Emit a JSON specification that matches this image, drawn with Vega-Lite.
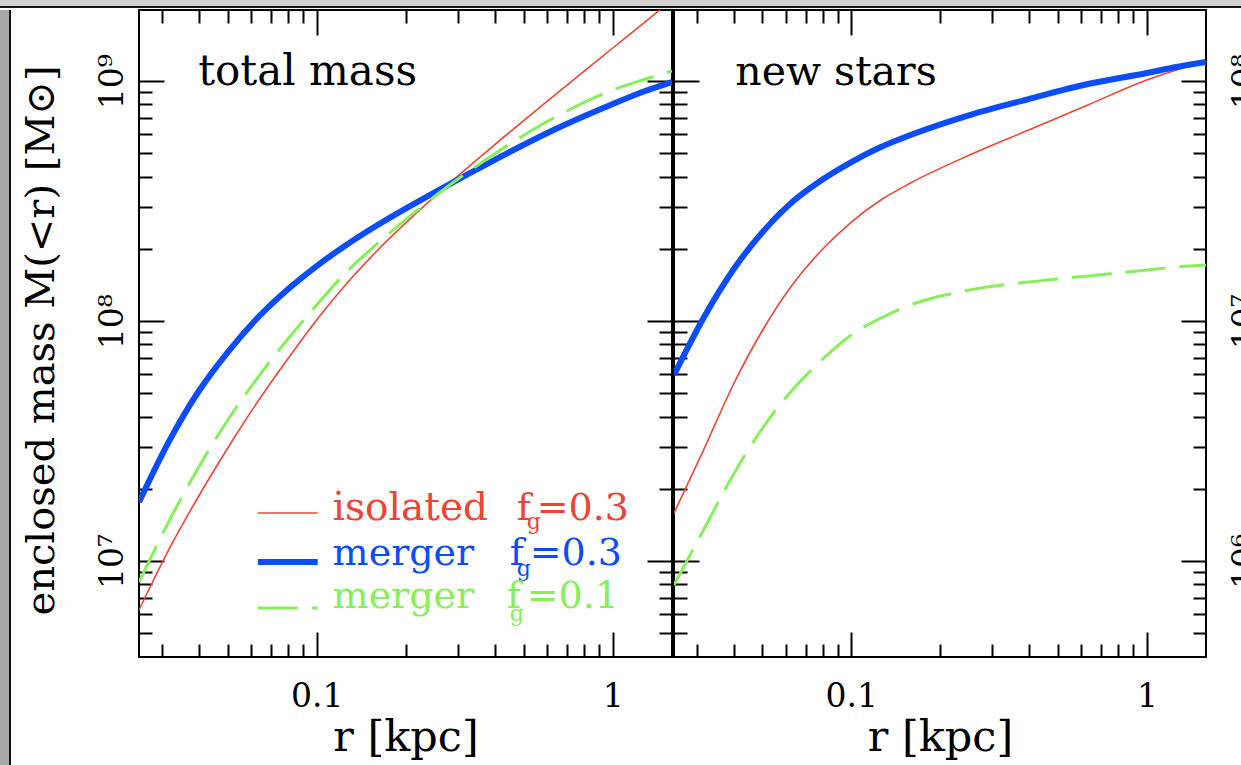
{
  "$schema": "https://vega.github.io/schema/vega-lite/v6.json",
  "background": "white",
  "padding": 0,
  "config": {
    "font": "DejaVu Serif",
    "view": {"stroke": null},
    "axis": {
      "domain": false, "grid": false, "tickColor": "black", "tickWidth": 2,
      "labelFont": "DejaVu Serif", "labelFontSize": 33, "labelColor": "black",
      "labelOverlap": false, "labelFlush": false, "labelBound": false,
      "titleFont": "DejaVu Serif", "titleFontSize": 40, "titleFontWeight": "normal", "titleColor": "black",
      "zindex": 1
    }
  },
  "datasets": {
    "total": [
      {"model": "isolated fg=0.3", "r": 0.02512, "mass": 6249000},
      {"model": "isolated fg=0.3", "r": 0.03162, "mass": 11110000},
      {"model": "isolated fg=0.3", "r": 0.03981, "mass": 18480000},
      {"model": "isolated fg=0.3", "r": 0.05012, "mass": 29570000},
      {"model": "isolated fg=0.3", "r": 0.0631, "mass": 45970000},
      {"model": "isolated fg=0.3", "r": 0.07943, "mass": 68790000},
      {"model": "isolated fg=0.3", "r": 0.1, "mass": 101000000},
      {"model": "isolated fg=0.3", "r": 0.1259, "mass": 142600000},
      {"model": "isolated fg=0.3", "r": 0.1585, "mass": 193900000},
      {"model": "isolated fg=0.3", "r": 0.2512, "mass": 331700000},
      {"model": "isolated fg=0.3", "r": 0.3981, "mass": 541200000},
      {"model": "isolated fg=0.3", "r": 0.631, "mass": 866000000},
      {"model": "isolated fg=0.3", "r": 1, "mass": 1373000000},
      {"model": "isolated fg=0.3", "r": 1.259, "mass": 1728000000},
      {"model": "isolated fg=0.3", "r": 1.585, "mass": 2175000000},
      {"model": "merger fg=0.3", "r": 0.02512, "mass": 17610000},
      {"model": "merger fg=0.3", "r": 0.03162, "mass": 31310000},
      {"model": "merger fg=0.3", "r": 0.03981, "mass": 50610000},
      {"model": "merger fg=0.3", "r": 0.05012, "mass": 74270000},
      {"model": "merger fg=0.3", "r": 0.0631, "mass": 102900000},
      {"model": "merger fg=0.3", "r": 0.07943, "mass": 134600000},
      {"model": "merger fg=0.3", "r": 0.1, "mass": 169500000},
      {"model": "merger fg=0.3", "r": 0.1259, "mass": 207400000},
      {"model": "merger fg=0.3", "r": 0.1585, "mass": 248800000},
      {"model": "merger fg=0.3", "r": 0.2512, "mass": 344800000},
      {"model": "merger fg=0.3", "r": 0.3981, "mass": 468600000},
      {"model": "merger fg=0.3", "r": 0.631, "mass": 624900000},
      {"model": "merger fg=0.3", "r": 1, "mass": 801900000},
      {"model": "merger fg=0.3", "r": 1.259, "mass": 900000000},
      {"model": "merger fg=0.3", "r": 1.585, "mass": 990400000},
      {"model": "merger fg=0.1", "r": 0.02512, "mass": 8175000},
      {"model": "merger fg=0.1", "r": 0.03162, "mass": 14540000},
      {"model": "merger fg=0.1", "r": 0.03981, "mass": 24410000},
      {"model": "merger fg=0.1", "r": 0.05012, "mass": 38680000},
      {"model": "merger fg=0.1", "r": 0.0631, "mass": 57880000},
      {"model": "merger fg=0.1", "r": 0.07943, "mass": 83310000},
      {"model": "merger fg=0.1", "r": 0.1, "mass": 116600000},
      {"model": "merger fg=0.1", "r": 0.1259, "mass": 160000000},
      {"model": "merger fg=0.1", "r": 0.1585, "mass": 207400000},
      {"model": "merger fg=0.1", "r": 0.2512, "mass": 331700000},
      {"model": "merger fg=0.1", "r": 0.3981, "mass": 496400000},
      {"model": "merger fg=0.1", "r": 0.631, "mass": 701300000},
      {"model": "merger fg=0.1", "r": 1, "mass": 917300000},
      {"model": "merger fg=0.1", "r": 1.259, "mass": 1010000000},
      {"model": "merger fg=0.1", "r": 1.585, "mass": 1101000000}
    ],
    "stars": [
      {"model": "isolated fg=0.3", "r": 0.02512, "mass": 1585000},
      {"model": "isolated fg=0.3", "r": 0.03162, "mass": 2900000},
      {"model": "isolated fg=0.3", "r": 0.03981, "mass": 5412000},
      {"model": "isolated fg=0.3", "r": 0.05012, "mass": 9173000},
      {"model": "isolated fg=0.3", "r": 0.0631, "mass": 14130000},
      {"model": "isolated fg=0.3", "r": 0.07943, "mass": 19760000},
      {"model": "isolated fg=0.3", "r": 0.1, "mass": 25850000},
      {"model": "isolated fg=0.3", "r": 0.1259, "mass": 31930000},
      {"model": "isolated fg=0.3", "r": 0.1585, "mass": 37580000},
      {"model": "isolated fg=0.3", "r": 0.2512, "mass": 49170000},
      {"model": "isolated fg=0.3", "r": 0.3981, "mass": 62490000},
      {"model": "isolated fg=0.3", "r": 0.631, "mass": 79430000},
      {"model": "isolated fg=0.3", "r": 1, "mass": 101000000},
      {"model": "isolated fg=0.3", "r": 1.259, "mass": 111100000},
      {"model": "isolated fg=0.3", "r": 1.585, "mass": 120000000},
      {"model": "merger fg=0.3", "r": 0.02512, "mass": 5957000},
      {"model": "merger fg=0.3", "r": 0.03162, "mass": 10290000},
      {"model": "merger fg=0.3", "r": 0.03981, "mass": 16310000},
      {"model": "merger fg=0.3", "r": 0.05012, "mass": 23490000},
      {"model": "merger fg=0.3", "r": 0.0631, "mass": 31310000},
      {"model": "merger fg=0.3", "r": 0.07943, "mass": 38680000},
      {"model": "merger fg=0.3", "r": 0.1, "mass": 45970000},
      {"model": "merger fg=0.3", "r": 0.1259, "mass": 53090000},
      {"model": "merger fg=0.3", "r": 0.1585, "mass": 59570000},
      {"model": "merger fg=0.3", "r": 0.2512, "mass": 72160000},
      {"model": "merger fg=0.3", "r": 0.3981, "mass": 84140000},
      {"model": "merger fg=0.3", "r": 0.631, "mass": 97160000},
      {"model": "merger fg=0.3", "r": 1, "mass": 108000000},
      {"model": "merger fg=0.3", "r": 1.259, "mass": 114400000},
      {"model": "merger fg=0.3", "r": 1.585, "mass": 120000000},
      {"model": "merger fg=0.1", "r": 0.02512, "mass": 794300},
      {"model": "merger fg=0.1", "r": 0.03162, "mass": 1346000},
      {"model": "merger fg=0.1", "r": 0.03981, "mass": 2282000},
      {"model": "merger fg=0.1", "r": 0.05012, "mass": 3583000},
      {"model": "merger fg=0.1", "r": 0.0631, "mass": 5158000},
      {"model": "merger fg=0.1", "r": 0.07943, "mass": 6879000},
      {"model": "merger fg=0.1", "r": 0.1, "mass": 8744000},
      {"model": "merger fg=0.1", "r": 0.1259, "mass": 10290000},
      {"model": "merger fg=0.1", "r": 0.1585, "mass": 11660000},
      {"model": "merger fg=0.1", "r": 0.2512, "mass": 13460000},
      {"model": "merger fg=0.1", "r": 0.3981, "mass": 14540000},
      {"model": "merger fg=0.1", "r": 0.631, "mass": 15400000},
      {"model": "merger fg=0.1", "r": 1, "mass": 16310000},
      {"model": "merger fg=0.1", "r": 1.259, "mass": 16790000},
      {"model": "merger fg=0.1", "r": 1.585, "mass": 17110000}
    ]
  },
  "spacing": 0,
  "vconcat": [
    {"width": 1241, "height": 6, "data": {"values": []}, "mark": "rect", "view": {"fill": "#d2d2d2", "stroke": null}},
    {"width": 1241, "height": 2, "data": {"values": []}, "mark": "rect", "view": {"fill": "#141414", "stroke": null}},
    {
      "spacing": 0,
      "hconcat": [
        {"width": 9, "height": 757, "data": {"values": []}, "mark": "rect", "view": {"fill": "#a8a8a8", "stroke": null}},
        {"width": 2, "height": 757, "data": {"values": []}, "mark": "rect", "view": {"fill": "#141414", "stroke": null}},
        {"width": 8, "height": 757, "data": {"values": []}, "mark": "rect"},
        {
          "spacing": -7,
          "hconcat": [
            {
              "width": 533, "height": 647,
              "view": {"stroke": "black", "strokeWidth": 2},
              "resolve": {"axis": {"x": "independent", "y": "independent"}},
              "layer": [
                {
                  "data": {"name": "total"},
                  "transform": [{"filter": "datum.model == 'isolated fg=0.3'"}],
                  "mark": {"type": "line", "color": "#ef4434", "strokeWidth": 1.6, "clip": true, "interpolate": "monotone"},
                  "encoding": {
                    "x": {"field": "r", "type": "quantitative", "scale": {"type": "log", "domain": [0.02512, 1.585], "nice": false, "zero": false},
                      "axis": {"orient": "bottom", "values": [0.03,0.04,0.05,0.06,0.07,0.08,0.09,0.1,0.2,0.3,0.4,0.5,0.6,0.7,0.8,0.9,1],
                        "labelExpr": "datum.value == 0.1 ? '0.1' : datum.value == 1 ? '1' : ''",
                        "tickSize": {"condition": {"test": "datum.value == 0.1 || datum.value == 1", "value": -25}, "value": -13},
                        "labelBaseline": "top", "labelPadding": 48,
                        "title": "r [kpc]", "titleFontSize": 43, "titleY": 93, "titleBaseline": "alphabetic"}},
                    "y": {"field": "mass", "type": "quantitative", "scale": {"type": "log", "domain": [3981000, 1977000000], "nice": false, "zero": false},
                      "axis": {"orient": "left", "values": [5000000,6000000,7000000,8000000,9000000,10000000,20000000,30000000,40000000,50000000,60000000,70000000,80000000,90000000,100000000,200000000,300000000,400000000,500000000,600000000,700000000,800000000,900000000,1000000000],
                        "labelExpr": "datum.value == 1e7 ? '10⁷' : datum.value == 1e8 ? '10⁸' : datum.value == 1e9 ? '10⁹' : ''",
                        "tickSize": {"condition": {"test": "datum.value == 1e7 || datum.value == 1e8 || datum.value == 1e9", "value": -25}, "value": -13},
                        "labelAngle": 270, "labelAlign": "center", "labelBaseline": "alphabetic", "labelPadding": 42,
                        "title": "enclosed mass M(<r) [M⊙]", "titleAngle": 270, "titleX": -86, "titleY": 330, "titleAlign": "center", "titleBaseline": "alphabetic"}}
                  }
                },
                {
                  "data": {"name": "total"},
                  "transform": [{"filter": "datum.model == 'merger fg=0.3'"}],
                  "mark": {"type": "line", "color": "#0b4cff", "strokeWidth": 6, "clip": true, "interpolate": "monotone"},
                  "encoding": {
                    "x": {"field": "r", "type": "quantitative", "scale": {"type": "log", "domain": [0.02512, 1.585], "nice": false, "zero": false},
                      "axis": {"orient": "top", "values": [0.03,0.04,0.05,0.06,0.07,0.08,0.09,0.1,0.2,0.3,0.4,0.5,0.6,0.7,0.8,0.9,1],
                        "labels": false, "title": null,
                        "tickSize": {"condition": {"test": "datum.value == 0.1 || datum.value == 1", "value": -25}, "value": -13}}},
                    "y": {"field": "mass", "type": "quantitative", "scale": {"type": "log", "domain": [3981000, 1977000000], "nice": false, "zero": false},
                      "axis": {"orient": "right", "values": [5000000,6000000,7000000,8000000,9000000,10000000,20000000,30000000,40000000,50000000,60000000,70000000,80000000,90000000,100000000,200000000,300000000,400000000,500000000,600000000,700000000,800000000,900000000,1000000000],
                        "labels": false, "title": null,
                        "tickSize": {"condition": {"test": "datum.value == 1e7 || datum.value == 1e8 || datum.value == 1e9", "value": -25}, "value": -13}}}
                  }
                },
                {
                  "data": {"name": "total"},
                  "transform": [{"filter": "datum.model == 'merger fg=0.1'"}],
                  "mark": {"type": "line", "color": "#86ef5a", "strokeWidth": 3, "strokeDash": [40, 14], "clip": true, "interpolate": "monotone"},
                  "encoding": {
                    "x": {"field": "r", "type": "quantitative", "scale": {"type": "log", "domain": [0.02512, 1.585], "nice": false, "zero": false}, "axis": null},
                    "y": {"field": "mass", "type": "quantitative", "scale": {"type": "log", "domain": [3981000, 1977000000], "nice": false, "zero": false}, "axis": null}
                  }
                },
                {
                  "data": {"values": [{}]},
                  "mark": {"type": "text", "text": "total mass", "fontSize": 42, "align": "left", "baseline": "alphabetic", "color": "black"},
                  "encoding": {
                    "x": {"datum": 0.0398, "type": "quantitative", "scale": {"type": "log"}, "axis": null},
                    "y": {"datum": 963000000, "type": "quantitative", "scale": {"type": "log"}, "axis": null}
                  }
                },
                {
                  "data": {"values": [{}]},
                  "mark": {"type": "rule", "color": "#ef4434", "strokeWidth": 1.6},
                  "encoding": {
                    "x": {"datum": 0.0633, "type": "quantitative", "scale": {"type": "log"}, "axis": null},
                    "x2": {"datum": 0.1008},
                    "y": {"datum": 15850000, "type": "quantitative", "scale": {"type": "log"}, "axis": null}
                  }
                },
                {
                  "data": {"values": [{}]},
                  "mark": {"type": "rule", "color": "#0b4cff", "strokeWidth": 6},
                  "encoding": {
                    "x": {"datum": 0.0633, "type": "quantitative", "scale": {"type": "log"}, "axis": null},
                    "x2": {"datum": 0.1008},
                    "y": {"datum": 9900000, "type": "quantitative", "scale": {"type": "log"}, "axis": null}
                  }
                },
                {
                  "data": {"values": [{}]},
                  "mark": {"type": "rule", "color": "#86ef5a", "strokeWidth": 3, "strokeDash": [40, 14]},
                  "encoding": {
                    "x": {"datum": 0.0633, "type": "quantitative", "scale": {"type": "log"}, "axis": null},
                    "x2": {"datum": 0.1008},
                    "y": {"datum": 6370000, "type": "quantitative", "scale": {"type": "log"}, "axis": null}
                  }
                },
                {
                  "data": {"values": [{}]},
                  "mark": {"type": "text", "text": "isolated", "fontSize": 39, "align": "left", "baseline": "alphabetic", "color": "#ef4434"},
                  "encoding": {
                    "x": {"datum": 0.1132, "type": "quantitative", "scale": {"type": "log"}, "axis": null},
                    "y": {"datum": 14820000, "type": "quantitative", "scale": {"type": "log"}, "axis": null}
                  }
                },
                {
                  "data": {"values": [{}]},
                  "mark": {"type": "text", "text": "f", "fontSize": 38, "align": "left", "baseline": "alphabetic", "color": "#ef4434"},
                  "encoding": {
                    "x": {"datum": 0.4739, "type": "quantitative", "scale": {"type": "log"}, "axis": null},
                    "y": {"datum": 14820000, "type": "quantitative", "scale": {"type": "log"}, "axis": null}
                  }
                },
                {
                  "data": {"values": [{}]},
                  "mark": {"type": "text", "text": "g", "fontSize": 22, "align": "left", "baseline": "alphabetic", "color": "#ef4434"},
                  "encoding": {
                    "x": {"datum": 0.5122, "type": "quantitative", "scale": {"type": "log"}, "axis": null},
                    "y": {"datum": 13590000, "type": "quantitative", "scale": {"type": "log"}, "axis": null}
                  }
                },
                {
                  "data": {"values": [{}]},
                  "mark": {"type": "text", "text": "=0.3", "fontSize": 38, "align": "left", "baseline": "alphabetic", "color": "#ef4434"},
                  "encoding": {
                    "x": {"datum": 0.5536, "type": "quantitative", "scale": {"type": "log"}, "axis": null},
                    "y": {"datum": 14820000, "type": "quantitative", "scale": {"type": "log"}, "axis": null}
                  }
                },
                {
                  "data": {"values": [{}]},
                  "mark": {"type": "text", "text": "merger", "fontSize": 38, "align": "left", "baseline": "alphabetic", "color": "#0b4cff"},
                  "encoding": {
                    "x": {"datum": 0.1132, "type": "quantitative", "scale": {"type": "log"}, "axis": null},
                    "y": {"datum": 9624000, "type": "quantitative", "scale": {"type": "log"}, "axis": null}
                  }
                },
                {
                  "data": {"values": [{}]},
                  "mark": {"type": "text", "text": "f", "fontSize": 38, "align": "left", "baseline": "alphabetic", "color": "#0b4cff"},
                  "encoding": {
                    "x": {"datum": 0.4487, "type": "quantitative", "scale": {"type": "log"}, "axis": null},
                    "y": {"datum": 9624000, "type": "quantitative", "scale": {"type": "log"}, "axis": null}
                  }
                },
                {
                  "data": {"values": [{}]},
                  "mark": {"type": "text", "text": "g", "fontSize": 22, "align": "left", "baseline": "alphabetic", "color": "#0b4cff"},
                  "encoding": {
                    "x": {"datum": 0.4739, "type": "quantitative", "scale": {"type": "log"}, "axis": null},
                    "y": {"datum": 8660000, "type": "quantitative", "scale": {"type": "log"}, "axis": null}
                  }
                },
                {
                  "data": {"values": [{}]},
                  "mark": {"type": "text", "text": "=0.3", "fontSize": 38, "align": "left", "baseline": "alphabetic", "color": "#0b4cff"},
                  "encoding": {
                    "x": {"datum": 0.5243, "type": "quantitative", "scale": {"type": "log"}, "axis": null},
                    "y": {"datum": 9624000, "type": "quantitative", "scale": {"type": "log"}, "axis": null}
                  }
                },
                {
                  "data": {"values": [{}]},
                  "mark": {"type": "text", "text": "merger", "fontSize": 38, "align": "left", "baseline": "alphabetic", "color": "#86ef5a"},
                  "encoding": {
                    "x": {"datum": 0.1132, "type": "quantitative", "scale": {"type": "log"}, "axis": null},
                    "y": {"datum": 6370000, "type": "quantitative", "scale": {"type": "log"}, "axis": null}
                  }
                },
                {
                  "data": {"values": [{}]},
                  "mark": {"type": "text", "text": "f", "fontSize": 38, "align": "left", "baseline": "alphabetic", "color": "#86ef5a"},
                  "encoding": {
                    "x": {"datum": 0.4383, "type": "quantitative", "scale": {"type": "log"}, "axis": null},
                    "y": {"datum": 6370000, "type": "quantitative", "scale": {"type": "log"}, "axis": null}
                  }
                },
                {
                  "data": {"values": [{}]},
                  "mark": {"type": "text", "text": "g", "fontSize": 22, "align": "left", "baseline": "alphabetic", "color": "#86ef5a"},
                  "encoding": {
                    "x": {"datum": 0.4487, "type": "quantitative", "scale": {"type": "log"}, "axis": null},
                    "y": {"datum": 5620000, "type": "quantitative", "scale": {"type": "log"}, "axis": null}
                  }
                },
                {
                  "data": {"values": [{}]},
                  "mark": {"type": "text", "text": "=0.1", "fontSize": 38, "align": "left", "baseline": "alphabetic", "color": "#86ef5a"},
                  "encoding": {
                    "x": {"datum": 0.5122, "type": "quantitative", "scale": {"type": "log"}, "axis": null},
                    "y": {"datum": 6370000, "type": "quantitative", "scale": {"type": "log"}, "axis": null}
                  }
                }
              ]
            },
            {
              "width": 532, "height": 647,
              "view": {"stroke": "black", "strokeWidth": 2},
              "resolve": {"axis": {"x": "independent", "y": "independent"}},
              "layer": [
                {
                  "data": {"name": "stars"},
                  "transform": [{"filter": "datum.model == 'isolated fg=0.3'"}],
                  "mark": {"type": "line", "color": "#ef4434", "strokeWidth": 1.6, "clip": true, "interpolate": "monotone"},
                  "encoding": {
                    "x": {"field": "r", "type": "quantitative", "scale": {"type": "log", "domain": [0.02512, 1.585], "nice": false, "zero": false},
                      "axis": {"orient": "bottom", "values": [0.03,0.04,0.05,0.06,0.07,0.08,0.09,0.1,0.2,0.3,0.4,0.5,0.6,0.7,0.8,0.9,1],
                        "labelExpr": "datum.value == 0.1 ? '0.1' : datum.value == 1 ? '1' : ''",
                        "tickSize": {"condition": {"test": "datum.value == 0.1 || datum.value == 1", "value": -25}, "value": -13},
                        "labelBaseline": "top", "labelPadding": 48,
                        "title": "r [kpc]", "titleFontSize": 43, "titleY": 93, "titleBaseline": "alphabetic"}},
                    "y": {"field": "mass", "type": "quantitative", "scale": {"type": "log", "domain": [398100, 197700000], "nice": false, "zero": false},
                      "axis": {"orient": "left", "values": [500000,600000,700000,800000,900000,1000000,2000000,3000000,4000000,5000000,6000000,7000000,8000000,9000000,10000000,20000000,30000000,40000000,50000000,60000000,70000000,80000000,90000000,100000000],
                        "labels": false, "title": null,
                        "tickSize": {"condition": {"test": "datum.value == 1e6 || datum.value == 1e7 || datum.value == 1e8", "value": -25}, "value": -13}}}
                  }
                },
                {
                  "data": {"name": "stars"},
                  "transform": [{"filter": "datum.model == 'merger fg=0.3'"}],
                  "mark": {"type": "line", "color": "#0b4cff", "strokeWidth": 6, "clip": true, "interpolate": "monotone"},
                  "encoding": {
                    "x": {"field": "r", "type": "quantitative", "scale": {"type": "log", "domain": [0.02512, 1.585], "nice": false, "zero": false},
                      "axis": {"orient": "top", "values": [0.03,0.04,0.05,0.06,0.07,0.08,0.09,0.1,0.2,0.3,0.4,0.5,0.6,0.7,0.8,0.9,1],
                        "labels": false, "title": null,
                        "tickSize": {"condition": {"test": "datum.value == 0.1 || datum.value == 1", "value": -25}, "value": -13}}},
                    "y": {"field": "mass", "type": "quantitative", "scale": {"type": "log", "domain": [398100, 197700000], "nice": false, "zero": false},
                      "axis": {"orient": "right", "values": [500000,600000,700000,800000,900000,1000000,2000000,3000000,4000000,5000000,6000000,7000000,8000000,9000000,10000000,20000000,30000000,40000000,50000000,60000000,70000000,80000000,90000000,100000000],
                        "labelExpr": "datum.value == 1e6 ? '10⁶' : datum.value == 1e7 ? '10⁷' : datum.value == 1e8 ? '10⁸' : ''",
                        "tickSize": {"condition": {"test": "datum.value == 1e6 || datum.value == 1e7 || datum.value == 1e8", "value": -25}, "value": -13},
                        "labelAngle": 270, "labelAlign": "center", "labelBaseline": "top", "labelPadding": 48,
                        "title": null}}
                  }
                },
                {
                  "data": {"name": "stars"},
                  "transform": [{"filter": "datum.model == 'merger fg=0.1'"}],
                  "mark": {"type": "line", "color": "#86ef5a", "strokeWidth": 3, "strokeDash": [40, 14], "clip": true, "interpolate": "monotone"},
                  "encoding": {
                    "x": {"field": "r", "type": "quantitative", "scale": {"type": "log", "domain": [0.02512, 1.585], "nice": false, "zero": false}, "axis": null},
                    "y": {"field": "mass", "type": "quantitative", "scale": {"type": "log", "domain": [398100, 197700000], "nice": false, "zero": false}, "axis": null}
                  }
                },
                {
                  "data": {"values": [{}]},
                  "mark": {"type": "text", "text": "new stars", "fontSize": 41, "align": "left", "baseline": "alphabetic", "color": "black"},
                  "encoding": {
                    "x": {"datum": 0.0405, "type": "quantitative", "scale": {"type": "log"}, "axis": null},
                    "y": {"datum": 96300000, "type": "quantitative", "scale": {"type": "log"}, "axis": null}
                  }
                }
              ]
            }
          ]
        }
      ]
    }
  ]
}
